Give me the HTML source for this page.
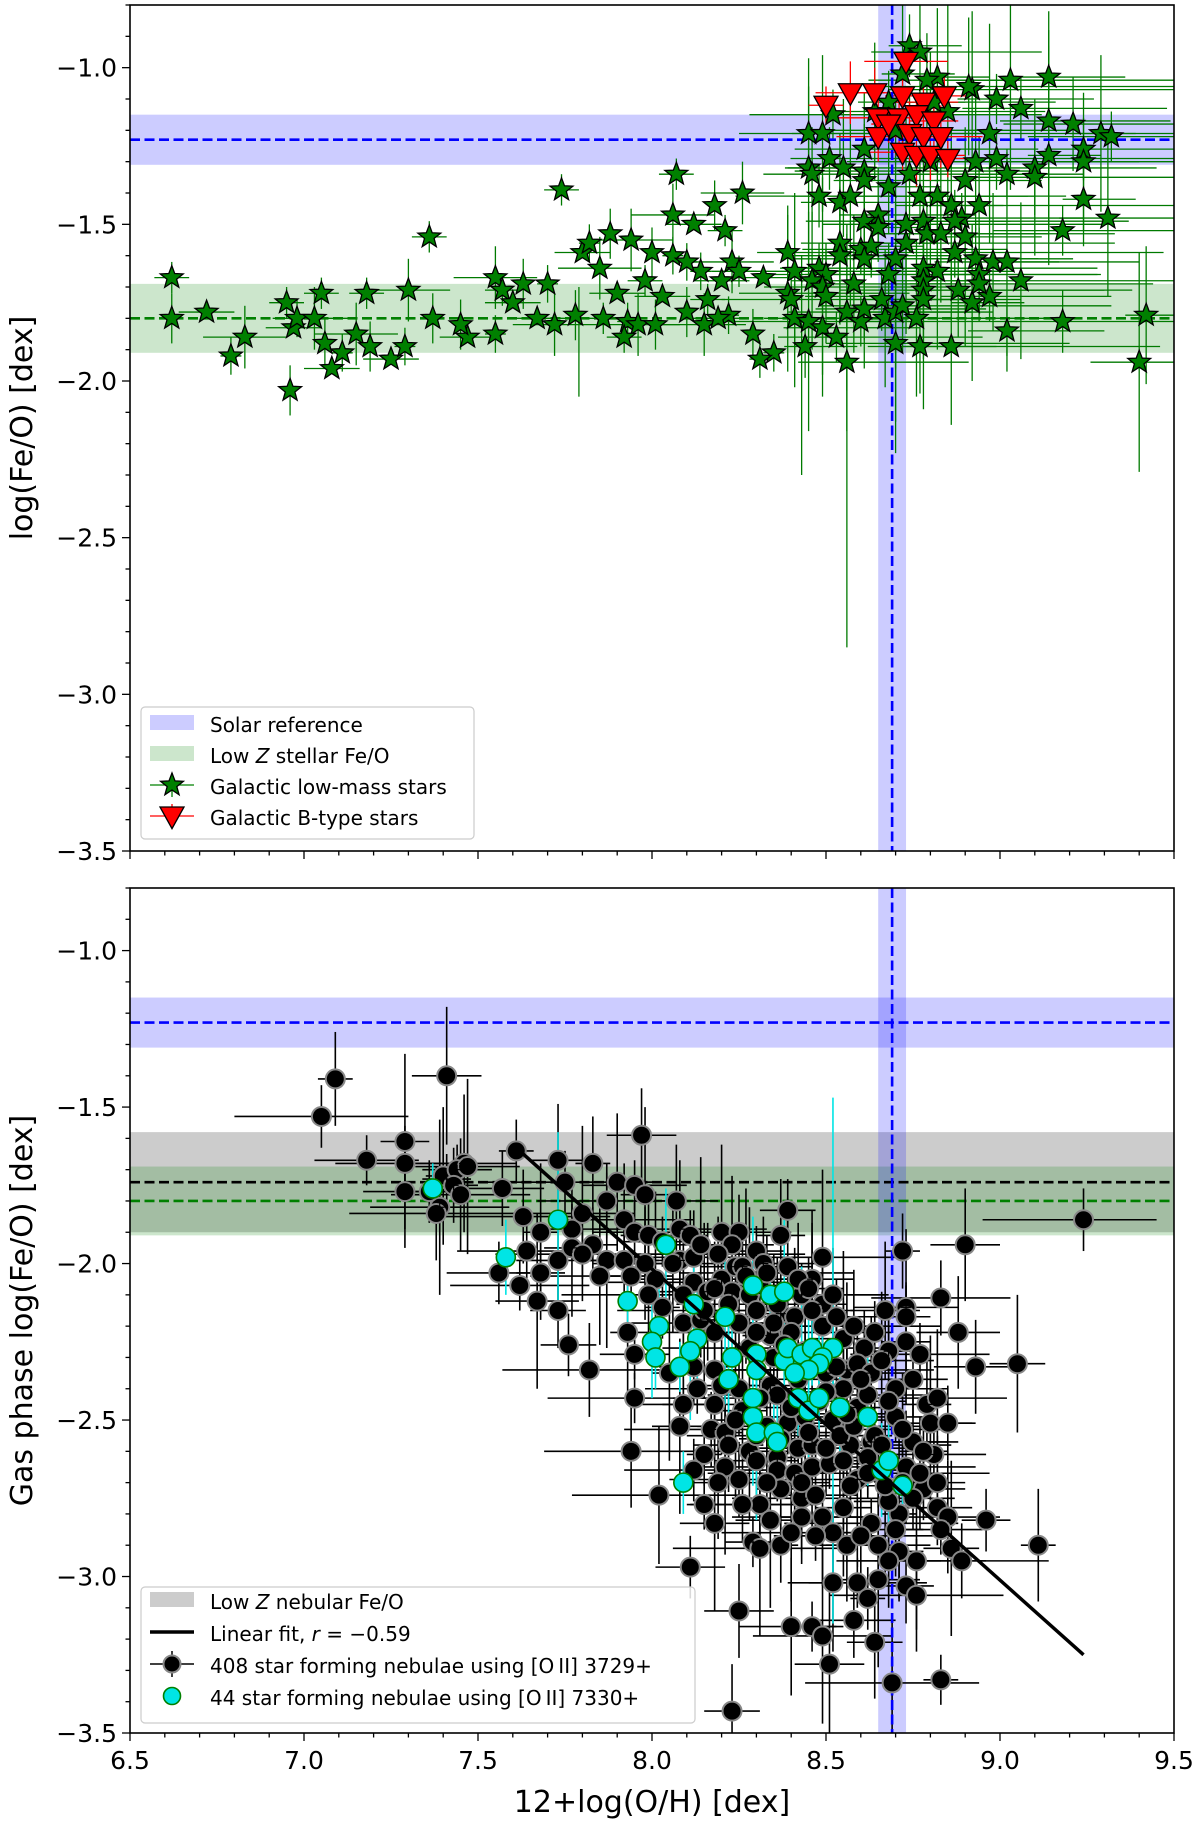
<!DOCTYPE html>
<html><head><meta charset="utf-8"><style>
html,body{margin:0;padding:0;background:#fff;}
svg{display:block;font-family:"DejaVu Sans","Liberation Sans",sans-serif;}
</style></head><body>
<svg id="fig" width="1200" height="1824" viewBox="0 0 1200 1824" xmlns="http://www.w3.org/2000/svg">
<g id="bg"></g>
</svg>
<script>
// ---------------- DATA ----------------
const starsLowZ = [[6.62,-1.67],[6.62,-1.80],[6.72,-1.78],[6.79,-1.92],[6.83,-1.86],[6.95,-1.75],[6.96,-2.03],[6.97,-1.83],[6.98,-1.80],[7.03,-1.80],[7.05,-1.72],[7.06,-1.88],[7.08,-1.96],[7.11,-1.91],[7.15,-1.85],[7.18,-1.72],[7.19,-1.89],[7.25,-1.93],[7.29,-1.89],[7.30,-1.71],[7.36,-1.54],[7.37,-1.80],[7.47,-1.86],[7.55,-1.85],[7.55,-1.67],[7.57,-1.71],[7.63,-1.69],[7.67,-1.80],[7.70,-1.69],[7.72,-1.82],[7.74,-1.39],[7.78,-1.79],[7.80,-1.59],[7.82,-1.56],[7.85,-1.64],[7.86,-1.80],[7.88,-1.53],[7.90,-1.72],[7.93,-1.81],[7.96,-1.82],[7.98,-1.68],[8.00,-1.59],[8.03,-1.73],[8.06,-1.60],[8.06,-1.47],[8.07,-1.34],[8.10,-1.78],[8.12,-1.50],[8.14,-1.65],[8.15,-1.82],[8.16,-1.74],[8.18,-1.44],[8.20,-1.68],[8.22,-1.79],[8.23,-1.62],[8.25,-1.65],[8.29,-1.85],[8.32,-1.67],[8.35,-1.91],[7.94,-1.55],[7.92,-1.86],[8.01,-1.82],[8.19,-1.80],[8.10,-1.62],[8.26,-1.40],[8.21,-1.52],[7.45,-1.82],[7.60,-1.75],[8.31,-1.93]];
const starsHighZ = [[8.74,-0.93],[8.77,-0.95],[9.03,-1.04],[9.14,-1.03],[8.92,-1.07],[8.99,-1.10],[9.06,-1.13],[8.82,-1.03],[9.14,-1.17],[9.21,-1.18],[9.29,-1.21],[9.32,-1.22],[9.24,-1.26],[9.24,-1.30],[9.14,-1.28],[9.10,-1.32],[9.10,-1.35],[9.02,-1.34],[8.99,-1.29],[8.93,-1.30],[8.97,-1.21],[9.24,-1.42],[9.31,-1.48],[9.18,-1.52],[8.90,-1.36],[8.94,-1.44],[8.82,-1.41],[8.77,-1.41],[8.86,-1.44],[8.89,-1.48],[8.87,-1.49],[8.78,-1.49],[8.73,-1.50],[8.65,-1.47],[8.61,-1.49],[8.65,-1.51],[8.79,-1.53],[8.83,-1.53],[8.90,-1.54],[8.73,-1.56],[8.54,-1.56],[8.60,-1.58],[8.63,-1.57],[8.54,-1.60],[8.61,-1.61],[8.39,-1.59],[8.41,-1.65],[8.48,-1.64],[8.50,-1.66],[8.46,-1.68],[8.70,-1.61],[8.78,-1.64],[8.82,-1.65],[8.87,-1.59],[8.93,-1.61],[8.98,-1.62],[9.02,-1.62],[8.94,-1.66],[9.06,-1.68],[8.78,-1.68],[8.68,-1.66],[8.58,-1.69],[8.49,-1.70],[8.50,-1.73],[8.39,-1.72],[8.40,-1.74],[8.66,-1.74],[8.78,-1.71],[8.78,-1.74],[8.88,-1.71],[8.92,-1.75],[8.97,-1.73],[8.94,-1.69],[8.41,-1.80],[8.45,-1.81],[8.49,-1.83],[8.56,-1.78],[8.60,-1.81],[8.61,-1.77],[8.67,-1.80],[8.70,-1.78],[8.72,-1.76],[8.76,-1.80],[8.53,-1.86],[8.44,-1.89],[8.56,-1.94],[8.70,-1.88],[8.77,-1.89],[8.86,-1.89],[9.02,-1.84],[9.18,-1.81],[9.42,-1.79],[9.40,-1.94],[8.45,-1.21],[8.49,-1.21],[8.52,-1.15],[8.51,-1.29],[8.55,-1.32],[8.45,-1.32],[8.46,-1.34],[8.61,-1.33],[8.61,-1.36],[8.48,-1.41],[8.54,-1.43],[8.57,-1.41],[8.68,-1.38],[8.74,-1.34],[8.61,-1.26],[8.68,-1.11],[8.91,-1.06],[8.85,-1.14],[8.79,-1.04],[8.72,-1.02],[8.81,-1.11],[8.70,-1.20],[8.64,-1.14],[8.80,-1.30]];
const starXerrHigh = [0.15,0.35,0.5,0.22,0.6,0.28,0.42];
const starYerrHigh = [0.1,0.22,0.35,0.15,0.25,0.08];
const bTypeStars = [[8.50,-1.12],[8.57,-1.08],[8.64,-1.08],[8.73,-0.98],[8.72,-1.09],[8.78,-1.11],[8.84,-1.09],[8.65,-1.16],[8.71,-1.16],[8.76,-1.15],[8.81,-1.17],[8.65,-1.22],[8.68,-1.18],[8.74,-1.21],[8.78,-1.22],[8.72,-1.27],[8.76,-1.28],[8.80,-1.28],[8.85,-1.29],[8.83,-1.22]];
const nebulae3729 = [[7.61,-1.64],[7.97,-1.59],[7.46,-1.68],[7.41,-1.73],[7.39,-1.82],[7.57,-1.76],[7.73,-1.67],[7.75,-1.74],[7.83,-1.68],[7.90,-1.74],[7.95,-1.75],[7.98,-1.78],[7.87,-1.80],[8.07,-1.80],[8.39,-1.83],[7.63,-1.85],[7.68,-1.90],[7.77,-1.89],[7.80,-1.84],[7.83,-1.94],[7.92,-1.86],[7.95,-1.90],[7.99,-1.91],[8.08,-1.89],[8.11,-1.91],[8.20,-1.90],[8.25,-1.90],[8.37,-1.91],[7.64,-1.96],[7.73,-1.99],[7.77,-1.95],[7.80,-1.97],[7.87,-1.99],[7.92,-1.99],[7.98,-2.00],[8.08,-1.99],[8.12,-1.98],[8.23,-1.94],[8.30,-1.96],[8.49,-1.98],[8.72,-1.96],[8.90,-1.94],[7.56,-2.03],[7.68,-2.03],[7.85,-2.04],[7.94,-2.04],[8.01,-2.05],[8.12,-2.06],[8.20,-2.05],[8.24,-2.01],[8.32,-2.00],[8.39,-2.01],[7.62,-2.07],[7.67,-2.12],[7.73,-2.15],[7.99,-2.10],[8.03,-2.14],[8.09,-2.10],[8.16,-2.09],[8.23,-2.09],[8.28,-2.10],[8.30,-2.15],[8.37,-2.16],[8.43,-2.10],[8.49,-2.13],[8.67,-2.15],[8.73,-2.14],[8.73,-2.17],[8.83,-2.11],[8.88,-2.22],[7.76,-2.26],[7.82,-2.34],[7.93,-2.22],[7.95,-2.29],[8.09,-2.19],[8.14,-2.18],[8.18,-2.22],[8.25,-2.19],[8.34,-2.23],[8.41,-2.17],[8.49,-2.20],[8.55,-2.24],[8.61,-2.27],[8.73,-2.25],[8.77,-2.29],[8.93,-2.33],[9.05,-2.32],[7.95,-2.43],[8.05,-2.35],[8.12,-2.33],[8.18,-2.34],[8.34,-2.39],[8.36,-2.42],[8.42,-2.37],[8.50,-2.35],[8.56,-2.34],[8.59,-2.32],[8.63,-2.35],[8.70,-2.40],[8.79,-2.45],[8.82,-2.43],[8.09,-2.45],[8.08,-2.52],[8.17,-2.53],[8.21,-2.54],[8.39,-2.51],[8.52,-2.50],[8.59,-2.46],[8.62,-2.42],[8.80,-2.51],[8.85,-2.51],[7.94,-2.60],[8.15,-2.61],[8.22,-2.58],[8.28,-2.60],[8.36,-2.62],[8.42,-2.59],[8.46,-2.58],[8.57,-2.58],[8.63,-2.57],[8.64,-2.55],[8.75,-2.57],[8.81,-2.61],[8.21,-2.65],[8.25,-2.69],[8.30,-2.63],[8.36,-2.66],[8.41,-2.67],[8.46,-2.65],[8.51,-2.64],[8.59,-2.69],[8.65,-2.66],[8.73,-2.65],[8.78,-2.72],[8.82,-2.70],[8.02,-2.74],[8.15,-2.77],[8.18,-2.83],[8.31,-2.77],[8.37,-2.72],[8.43,-2.75],[8.47,-2.74],[8.55,-2.78],[8.63,-2.83],[8.71,-2.80],[8.82,-2.78],[8.85,-2.81],[8.96,-2.82],[8.43,-2.81],[8.49,-2.81],[8.29,-2.89],[8.31,-2.91],[8.37,-2.90],[8.56,-2.90],[8.65,-2.90],[8.71,-2.92],[8.76,-2.95],[8.83,-2.85],[8.86,-2.91],[8.89,-2.95],[9.11,-2.90],[8.11,-2.97],[8.68,-2.95],[8.52,-3.02],[8.59,-3.02],[8.65,-3.01],[8.73,-3.03],[8.76,-3.06],[8.62,-3.07],[8.25,-3.11],[8.40,-3.16],[8.46,-3.16],[8.49,-3.19],[8.58,-3.14],[8.64,-3.21],[7.05,-1.53],[7.09,-1.41],[7.41,-1.40],[7.18,-1.67],[7.29,-1.61],[7.29,-1.68],[7.29,-1.77],[7.36,-1.77],[7.38,-1.84],[7.40,-1.72],[7.44,-1.70],[7.47,-1.69],[7.43,-1.75],[7.45,-1.78],[9.24,-1.86],[8.23,-3.43],[8.69,-3.34],[8.83,-3.33],[8.51,-3.28],[8.18,-2.45],[8.26,-2.47],[8.33,-2.52],[8.44,-2.49],[8.54,-2.55],[8.28,-2.27],[8.35,-2.30],[8.44,-2.28],[8.53,-2.33],[8.31,-2.07],[8.36,-2.13],[8.46,-2.05],[8.26,-2.01],[8.15,-2.15],[8.62,-2.62],[8.68,-2.76],[8.57,-2.71],[8.52,-2.86],[8.40,-2.86],[8.70,-2.49],
[8.27,-2.04],[8.33,-2.03],[8.42,-2.05],[8.45,-2.08],[8.52,-2.10],[8.35,-2.19],[8.40,-2.22],[8.46,-2.15],[8.53,-2.17],[8.58,-2.20],[8.64,-2.22],[8.68,-2.28],[8.66,-2.31],[8.60,-2.37],[8.55,-2.40],[8.48,-2.44],[8.40,-2.46],[8.31,-2.43],[8.25,-2.40],[8.20,-2.39],[8.13,-2.40],[8.24,-2.50],[8.30,-2.55],[8.37,-2.56],[8.45,-2.54],[8.50,-2.59],[8.55,-2.63],[8.62,-2.67],[8.67,-2.71],[8.72,-2.70],[8.77,-2.67],[8.75,-2.75],[8.70,-2.85],[8.60,-2.87],[8.47,-2.87],[8.34,-2.82],[8.26,-2.77],[8.19,-2.70],[8.12,-2.66],[8.33,-2.70],[8.43,-2.70],[8.58,-2.52],[8.68,-2.44],[8.75,-2.37],[8.72,-2.53],[8.78,-2.60],[8.66,-2.58],[8.56,-2.48],[8.50,-2.41],[8.44,-2.34],[8.38,-2.26],[8.30,-2.22],[8.22,-2.13],[8.18,-2.08],[8.06,-2.00],[8.03,-1.93],[8.14,-1.94],[8.19,-1.97]];
const nebulae7330 = [[7.37,-1.76],[7.73,-1.86],[7.58,-1.98],[8.04,-1.94],[7.93,-2.12],[8.12,-2.13],[8.29,-2.07],[8.34,-2.10],[8.38,-2.09],[8.02,-2.20],[8.00,-2.25],[8.01,-2.30],[8.13,-2.24],[8.11,-2.28],[8.08,-2.33],[8.21,-2.17],[8.23,-2.30],[8.22,-2.37],[8.30,-2.29],[8.30,-2.34],[8.38,-2.31],[8.39,-2.27],[8.43,-2.29],[8.46,-2.27],[8.52,-2.27],[8.49,-2.30],[8.48,-2.32],[8.45,-2.34],[8.41,-2.35],[8.29,-2.43],[8.42,-2.43],[8.45,-2.47],[8.48,-2.43],[8.54,-2.46],[8.62,-2.49],[8.29,-2.49],[8.30,-2.54],[8.35,-2.54],[8.36,-2.57],[8.09,-2.70],[8.66,-2.66],[8.68,-2.63],[8.72,-2.71]];
const nebXerr = [0.05,0.1,0.15,0.07,0.2,0.12,0.08,0.25];
const nebYerr = [0.1,0.15,0.22,0.08,0.28,0.12,0.18];
const fitX = [7.62, 9.24];
const fitY = [-1.64, -3.25];
const solarFeO = -1.23, solarFeOlo = -1.31, solarFeOhi = -1.15;
const solarOH = 8.69, solarOHlo = 8.65, solarOHhi = 8.73;
const lowZstellar = -1.80, lowZstellarLo = -1.91, lowZstellarHi = -1.69;
const lowZneb = -1.74, lowZnebLo = -1.90, lowZnebHi = -1.58;
const xTicks = [6.5,7.0,7.5,8.0,8.5,9.0,9.5];
const yTicks = [-3.5,-3.0,-2.5,-2.0,-1.5,-1.0];

// ---------------- AXES ----------------
const X0=130, X1=1174, XMIN=6.5, XMAX=9.5, YMIN=-3.5, YMAX=-0.8;
const P1={top:5,bot:851}, P2={top:888,bot:1733};
function xs(v){return X0+(v-XMIN)/(XMAX-XMIN)*(X1-X0);}
function ysF(p){return v=>p.bot-(v-YMIN)/(YMAX-YMIN)*(p.bot-p.top);}
const y1=ysF(P1), y2=ysF(P2);
const NS='http://www.w3.org/2000/svg';
const svg=document.getElementById('fig');
function el(tag,attrs,parent){const e=document.createElementNS(NS,tag);for(const k in attrs)e.setAttribute(k,attrs[k]);(parent||svg).appendChild(e);return e;}
function fmt(v){return (v<0?'\u2212':'')+Math.abs(v).toFixed(1);}

function panel(p,ys,name){
  const g=el('g',{});
  
  
  const clipId='clip-'+name;
  const cp=el('clipPath',{id:clipId},g);
  el('rect',{x:X0,y:p.top,width:X1-X0,height:p.bot-p.top},cp);
  const inner=el('g',{'clip-path':'url(#'+clipId+')'},g);
  return {g,inner,p,ys};
}
function axesFrame(P,showXLabels){
  const {g,p,ys}=P;
  const f=el('rect',{x:X0,y:p.top,width:X1-X0,height:p.bot-p.top,fill:'none',stroke:'#000','stroke-width':1.6},g);
  
  
  for(let i=0;i<=30;i++){const v=6.5+i*0.1;const x=xs(v);const major=i%5==0;
    el('line',{x1:x,x2:x,y1:p.bot,y2:p.bot+(major?8:4.5),stroke:'#000','stroke-width':1.3},g);
    if(major&&showXLabels){const t=el('text',{x:x,y:p.bot+36,'font-size':25,'text-anchor':'middle'},g);t.textContent=v.toFixed(1);
      }}
  for(let i=0;i<=27;i++){const v=-3.5+i*0.1;const y=ys(v);const major=i%5==0;
    el('line',{x1:X0,x2:X0-(major?8:4.5),y1:y,y2:y,stroke:'#000','stroke-width':1.3},g);}
  yTicks.forEach(v=>{const t=el('text',{x:X0-13,y:ys(v)+9,'font-size':25,'text-anchor':'end'},g);t.textContent=fmt(v);
    });
}
function hband(P,lo,hi,color,op,name){const r=el('rect',{x:X0,y:P.ys(hi),width:X1-X0,height:P.ys(lo)-P.ys(hi),fill:color,'fill-opacity':op},P.inner);
  }
function vband(P,lo,hi,name){const r=el('rect',{x:xs(lo),y:P.p.top,width:xs(hi)-xs(lo),height:P.p.bot-P.p.top,fill:'#0000ff','fill-opacity':0.2},P.inner);
  }
function hline(P,v,color,name){const l=el('line',{x1:X0,x2:X1,y1:P.ys(v),y2:P.ys(v),stroke:color,'stroke-width':2.6,'stroke-dasharray':'10,4.5'},P.inner);
  }
function vline(P,v,name){const l=el('line',{x1:xs(v),x2:xs(v),y1:P.p.top,y2:P.p.bot,stroke:'#0000ff','stroke-width':2.6,'stroke-dasharray':'10,4.5'},P.inner);
  }
function starPath(cx,cy,R){const r=R*0.42;let d='';for(let i=0;i<10;i++){const a=-Math.PI/2+i*Math.PI/5;const rr=i%2?r:R;d+=(i?'L':'M')+(cx+rr*Math.cos(a)).toFixed(1)+','+(cy+rr*Math.sin(a)).toFixed(1);}return d+'Z';}
function triPath(cx,cy,s){return `M${cx-s},${cy-s*0.75}L${cx+s},${cy-s*0.75}L${cx},${cy+s*1.05}Z`;}

// ---------------- TOP PANEL ----------------
const A=panel(P1,y1,'top-panel');
hband(A,solarFeOlo,solarFeOhi,'#0000ff',0.2,'solar-feo-band');
hband(A,lowZstellarLo,lowZstellarHi,'#008000',0.2,'lowz-stellar-band');
vband(A,solarOHlo,solarOHhi,'solar-oh-band');
hline(A,lowZstellar,'#008000','lowz-stellar-line');
const ebTop=el('g',{stroke:'#007a00','stroke-width':1.3},A.inner);
starsLowZ.forEach((d,i)=>{const xe=[0.05,0.0,0.08,0.03,0.12][i%5], ye=[0.05,0.08,0.0,0.06,0.1][i%5];
  if(xe)el('line',{x1:xs(d[0]-xe),x2:xs(d[0]+xe),y1:y1(d[1]),y2:y1(d[1])},ebTop);
  if(ye)el('line',{x1:xs(d[0]),x2:xs(d[0]),y1:y1(d[1]-ye),y2:y1(d[1]+ye)},ebTop);});
starsHighZ.forEach((d,i)=>{const xe=starXerrHigh[i%starXerrHigh.length], ye=starYerrHigh[i%starYerrHigh.length];
  el('line',{x1:xs(d[0]-xe*0.4),x2:xs(d[0]+xe),y1:y1(d[1]),y2:y1(d[1])},ebTop);
  el('line',{x1:xs(d[0]),x2:xs(d[0]),y1:y1(d[1]-ye),y2:y1(d[1]+ye)},ebTop);});
el('line',{x1:xs(8.56),x2:xs(8.56),y1:y1(-1.5),y2:y1(-2.85)},ebTop);
el('line',{x1:xs(8.43),x2:xs(8.43),y1:y1(-1.6),y2:y1(-2.3)},ebTop);
el('line',{x1:xs(7.79),x2:xs(7.79),y1:y1(-1.7),y2:y1(-2.05)},ebTop);
const ebRed=el('g',{stroke:'#ff0000','stroke-width':1.3},A.inner);
bTypeStars.forEach((d,i)=>{const xe=[0.05,0.1,0.07,0.12][i%4], ye=[0.06,0.1,0.08][i%3];
  el('line',{x1:xs(d[0]-xe),x2:xs(d[0]+xe),y1:y1(d[1]),y2:y1(d[1])},ebRed);
  el('line',{x1:xs(d[0]),x2:xs(d[0]),y1:y1(d[1]-ye),y2:y1(d[1]+ye)},ebRed);});
vline(A,solarOH,'solar-oh-line');
hline(A,solarFeO,'#0000ff','solar-feo-line');
[...starsLowZ,...starsHighZ].forEach(d=>{const s=el('path',{d:starPath(xs(d[0]),y1(d[1]),12),fill:'#008000',stroke:'#000','stroke-width':1.3},A.inner);
  
  });
bTypeStars.forEach(d=>{const s=el('path',{d:triPath(xs(d[0]),y1(d[1]),12),fill:'#ff0000',stroke:'#000','stroke-width':1.3},A.inner);
  
  });
axesFrame(A,false);

// ---------------- BOTTOM PANEL ----------------
const B=panel(P2,y2,'bottom-panel');
hband(B,solarFeOlo,solarFeOhi,'#0000ff',0.2,'solar-feo-band');
hband(B,lowZnebLo,lowZnebHi,'#000000',0.2,'lowz-nebular-band');
hband(B,lowZstellarLo,lowZstellarHi,'#008000',0.2,'lowz-stellar-band');
vband(B,solarOHlo,solarOHhi,'solar-oh-band');
hline(B,lowZneb,'#000000','lowz-nebular-line');
hline(B,lowZstellar,'#008000','lowz-stellar-line');
const ebB=el('g',{stroke:'#000','stroke-width':1.6},B.inner);
nebulae3729.forEach((d,i)=>{const xe=nebXerr[i%nebXerr.length], ye=nebYerr[i%nebYerr.length];
  el('line',{x1:xs(d[0]-xe),x2:xs(d[0]+xe),y1:y2(d[1]),y2:y2(d[1])},ebB);
  el('line',{x1:xs(d[0]),x2:xs(d[0]),y1:y2(d[1]-ye),y2:y2(d[1]+ye)},ebB);});
el('line',{x1:xs(8.95),x2:xs(9.45),y1:y2(-1.86),y2:y2(-1.86)},ebB);
const ebC=el('g',{stroke:'#00e5e5','stroke-width':1.6},B.inner);
nebulae7330.forEach((d,i)=>{const ye=nebYerr[(i+3)%nebYerr.length];
  el('line',{x1:xs(d[0]),x2:xs(d[0]),y1:y2(d[1]-ye),y2:y2(d[1]+ye)},ebC);});
el('line',{x1:xs(8.52),x2:xs(8.52),y1:y2(-1.47),y2:y2(-3.15)},ebC);
vline(B,solarOH,'solar-oh-line');
hline(B,solarFeO,'#0000ff','solar-feo-line');
nebulae3729.forEach(d=>{const c=el('circle',{cx:xs(d[0]),cy:y2(d[1]),r:9.5,fill:'#000',stroke:'#888','stroke-width':2},B.inner);
  
  });
const cr=el('g',{stroke:'#000','stroke-width':1.2},B.inner);
nebulae3729.forEach(d=>{el('line',{x1:xs(d[0])-5,x2:xs(d[0])+5,y1:y2(d[1]),y2:y2(d[1])},cr);el('line',{x1:xs(d[0]),x2:xs(d[0]),y1:y2(d[1])-5,y2:y2(d[1])+5},cr);});
nebulae7330.forEach(d=>{const c=el('circle',{cx:xs(d[0]),cy:y2(d[1]),r:9.5,fill:'#00e5e5',stroke:'#008000','stroke-width':1.6},B.inner);
  
  });
const fit=el('line',{x1:xs(fitX[0]),y1:y2(fitY[0]),x2:xs(fitX[1]),y2:y2(fitY[1]),stroke:'#000','stroke-width':3.5},B.inner);


axesFrame(B,true);

// ---------------- LABELS ----------------
function txt(s,attrs,name){const t=el('text',attrs);t.textContent=s;return t;}
txt('log(Fe/O) [dex]',{x:0,y:0,'font-size':30,'text-anchor':'middle',transform:`translate(32,${(P1.top+P1.bot)/2}) rotate(-90)`},'y-axis-title-top');
txt('Gas phase log(Fe/O) [dex]',{x:0,y:0,'font-size':30,'text-anchor':'middle',transform:`translate(32,${(P2.top+P2.bot)/2}) rotate(-90)`},'y-axis-title-bottom');
txt('12+log(O/H) [dex]',{x:652,y:1812,'font-size':30,'text-anchor':'middle'},'x-axis-title');

// ---------------- LEGENDS ----------------
function legend(x,y,w,h,name){const g=el('g',{});
  el('rect',{x,y,width:w,height:h,rx:4,fill:'#fff','fill-opacity':0.85,stroke:'#ccc','stroke-width':1.2},g);return g;}
const L1=legend(141,707,333,132,'legend-top');
const rowsTop=[732,763,794,825];
el('rect',{x:150,y:rowsTop[0]-17,width:44,height:15,fill:'#0000ff','fill-opacity':0.2},L1);
el('rect',{x:150,y:rowsTop[1]-17,width:44,height:15,fill:'#008000','fill-opacity':0.2},L1);
el('line',{x1:150,x2:194,y1:rowsTop[2]-9,y2:rowsTop[2]-9,stroke:'#008000','stroke-width':1.3},L1);
el('line',{x1:172,x2:172,y1:rowsTop[2]-21,y2:rowsTop[2]+3,stroke:'#008000','stroke-width':1.3},L1);
el('path',{d:starPath(172,rowsTop[2]-9,12),fill:'#008000',stroke:'#000','stroke-width':1.3},L1);
el('line',{x1:150,x2:194,y1:rowsTop[3]-9,y2:rowsTop[3]-9,stroke:'#ff0000','stroke-width':1.3},L1);
el('line',{x1:172,x2:172,y1:rowsTop[3]-21,y2:rowsTop[3]+3,stroke:'#ff0000','stroke-width':1.3},L1);
el('path',{d:triPath(172,rowsTop[3]-9,12),fill:'#ff0000',stroke:'#000','stroke-width':1.3},L1);
[['Solar reference'],['Low Z stellar Fe/O'],['Galactic low-mass stars'],['Galactic B-type stars']].forEach((s,i)=>{
  const t=el('text',{x:210,y:rowsTop[i],'font-size':20},L1);
  if(i==1){t.innerHTML='Low <tspan font-style="italic">Z</tspan> stellar Fe/O';}else t.textContent=s[0];
  });
const L2=legend(141,1587,554,136,'legend-bottom');
const rowsB=[1609,1641,1673,1705];
el('rect',{x:150,y:rowsB[0]-17,width:44,height:15,fill:'#000','fill-opacity':0.2},L2);
el('line',{x1:150,x2:194,y1:rowsB[1]-9,y2:rowsB[1]-9,stroke:'#000','stroke-width':3.5},L2);
el('line',{x1:150,x2:194,y1:rowsB[2]-9,y2:rowsB[2]-9,stroke:'#000','stroke-width':1.5},L2);
el('line',{x1:172,x2:172,y1:rowsB[2]-22,y2:rowsB[2]+4,stroke:'#000','stroke-width':1.5},L2);
el('circle',{cx:172,cy:rowsB[2]-9,r:8.5,fill:'#000',stroke:'#888','stroke-width':2},L2);
el('circle',{cx:172,cy:rowsB[3]-9,r:8.5,fill:'#00e5e5',stroke:'#008000','stroke-width':1.6},L2);
const lt=['Low <tspan font-style="italic">Z</tspan> nebular Fe/O','Linear fit, <tspan font-style="italic">r</tspan> = \u22120.59','408 star forming nebulae using [O\u2009II] 3729+','44 star forming nebulae using [O\u2009II] 7330+'];
lt.forEach((s,i)=>{const t=el('text',{x:210,y:rowsB[i],'font-size':20},L2);t.innerHTML=s;
  });
</script>
</body></html>
